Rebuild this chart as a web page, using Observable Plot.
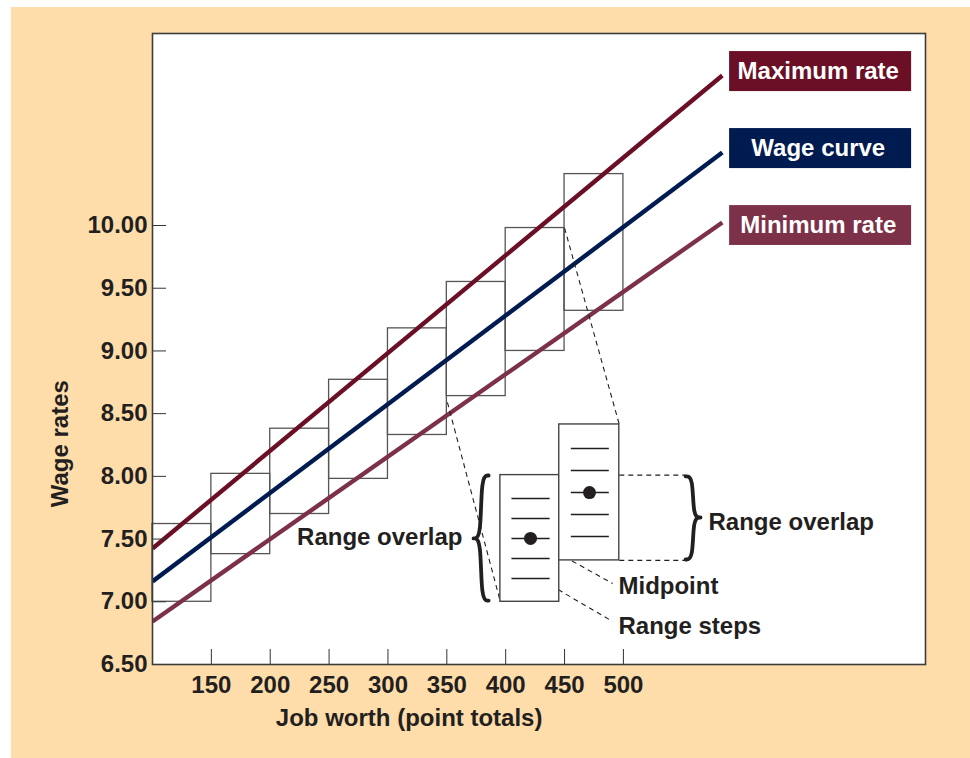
<!DOCTYPE html>
<html>
<head>
<meta charset="utf-8">
<script src="https://cdn.jsdelivr.net/npm/d3@7"></script>
<script src="https://cdn.jsdelivr.net/npm/@observablehq/plot@0.6"></script>
<style>
  html, body { margin: 0; padding: 0; background: #ffffff; }
  #chart { position: absolute; left: 11px; top: 7px; width: 959px; height: 751px; background: #feddaa; }
  #chart svg { display: block; }
</style>
</head>
<body>
<div id="chart"></div>
<script>
// ---- data ----
const xTicks = [150, 200, 250, 300, 350, 400, 450, 500];
const yTickLabels = [6.5, 7, 7.5, 8, 8.5, 9, 9.5, 10];
const yTickMarks = [7, 7.5, 8, 8.5, 9, 9.5, 10];

// pay grades (point ranges and wage ranges)
const gradeStart = [100, 150, 200, 250, 300, 350, 400, 450];
const gradeEnd   = [150, 200, 250, 300, 350, 400, 450, 500];
const gradeMax   = [7.62, 8.02, 8.38, 8.77, 9.18, 9.55, 9.98, 10.41];
const gradeMin   = [7.00, 7.38, 7.70, 7.98, 8.33, 8.64, 9.00, 9.32];

// rate lines
const lineNames  = ["Maximum rate", "Wage curve", "Minimum rate"];
const lineColors = ["#6a0f25", "#001b4f", "#7d3149"];
const lineX      = [100, 584];
const maxRate    = [7.425, 11.196];
const wageCurve  = [7.162, 10.582];
const minRate    = [6.843, 10.024];

// legend label boxes
const labelX1 = 590.2, labelX2 = 744.8;
const labelTop    = [11.387, 10.773, 10.159];
const labelBottom = [11.068, 10.454, 9.841];

// inset (enlarged two grades)
const insetStart = [395.5, 445.5];
const insetEnd   = [445.5, 496.5];
const insetMin   = [7.00, 7.33];
const insetMax   = [8.01, 8.414];
const stepsA = [7.823, 7.664, 7.505, 7.345, 7.186];
const stepsB = [8.222, 8.047, 7.871, 7.696, 7.521];
const stepXA = [404.9, 437.3];
const stepXB = [455.3, 487.6];
const midX = [421.1, 471.2];
const midY = [7.505, 7.871];

// dashed connector lines [x1, y1, x2, y2]
const dashX1 = [350.5, 450, 496.5, 496.5, 429.6, 431.3];
const dashY1 = [8.59, 9.98, 8.01, 7.33, 7.465, 7.17];
const dashX2 = [395.5, 496.5, 552.8, 552.8, 490.8, 490.8];
const dashY2 = [7.0, 8.414, 8.01, 7.33, 7.146, 6.843];

// braces: end x, tip x, top, bottom, tip y
const braceEnd = [385.5, 552.8];
const braceTip = [372.7, 565.5];
const braceTop = [8.007, 8.0];
const braceBot = [7.01, 7.337];
const braceMid = [7.505, 7.672];

// annotation texts
const leftNoteText = ["Range overlap"];
const leftNoteX = [363.3];
const leftNoteY = [7.513];
const rightNoteText = ["Range overlap", "Midpoint", "Range steps"];
const rightNoteX = [572.3, 495.8, 495.8];
const rightNoteY = [7.632, 7.122, 6.803];

// axis titles
const yTitle = "Wage rates", yTitlePos = 8.26;
const xTitle = "Job worth (point totals)", xTitlePos = 318;

// ---- build tables ----
const grades = gradeStart.map((s, i) => ({x1: s, x2: gradeEnd[i], y1: gradeMin[i], y2: gradeMax[i]}));
const rateLines = [];
[maxRate, wageCurve, minRate].forEach((vals, i) => {
  vals.forEach((v, j) => rateLines.push({name: lineNames[i], x: lineX[j], y: v}));
});
const labels = lineNames.map((n, i) => ({name: n, y1: labelBottom[i], y2: labelTop[i]}));
const inset = insetStart.map((s, i) => ({x1: s, x2: insetEnd[i], y1: insetMin[i], y2: insetMax[i]}));
const steps = [
  ...stepsA.map(y => ({x1: stepXA[0], x2: stepXA[1], y})),
  ...stepsB.map(y => ({x1: stepXB[0], x2: stepXB[1], y}))
];
const mids = midX.map((x, i) => ({x, y: midY[i]}));
const dashes = dashX1.map((x, i) => ({x1: x, y1: dashY1[i], x2: dashX2[i], y2: dashY2[i]}));
const braces = [];
braceEnd.forEach((xe, i) => {
  const xt = braceTip[i], xb = (xe + xt) / 2, t = braceTop[i], b = braceBot[i], m = braceMid[i];
  [[xe, t], [xb, t], [xb, m], [xt, m], [xt, m], [xt, m], [xb, m], [xb, b], [xe, b]]
    .forEach(([x, y]) => braces.push({id: i, x, y}));
});
const leftNotes = leftNoteText.map((t, i) => ({t, x: leftNoteX[i], y: leftNoteY[i]}));
const rightNotes = rightNoteText.map((t, i) => ({t, x: rightNoteX[i], y: rightNoteY[i]}));

const ink = "#231f20";
const font = "'Liberation Sans', Arial, sans-serif";
const fs = 24;

const chart = Plot.plot({
  width: 959,
  height: 751,
  marginLeft: 141,
  marginTop: 26,
  marginRight: 45,
  marginBottom: 94,
  style: {fontFamily: font, fontWeight: "bold", fontSize: fs + "px", color: ink, background: "transparent", overflow: "visible"},
  x: {domain: [100, 756.6]},
  y: {domain: [6.5, 11.531]},
  color: {domain: lineNames, range: lineColors},
  marks: [
    Plot.frame({fill: "white"}),
    // pay grade boxes
    Plot.rect(grades, {x1: "x1", x2: "x2", y1: "y1", y2: "y2", stroke: "#555", strokeWidth: 1.3, fill: "none"}),
    // rate lines
    Plot.line(rateLines, {x: "x", y: "y", z: "name", stroke: "name", strokeWidth: 4.4, strokeLinecap: "butt", clip: true}),
    // legend labels
    Plot.rect(labels, {x1: labelX1, x2: labelX2, y1: "y1", y2: "y2", fill: "name"}),
    Plot.text(labels, {x: (labelX1 + labelX2) / 2 - 2, y: d => (d.y1 + d.y2) / 2, text: "name", fill: "white", fontSize: fs, fontWeight: "bold", textAnchor: "middle"}),
    // dashed connectors
    Plot.link(dashes, {x1: "x1", y1: "y1", x2: "x2", y2: "y2", stroke: ink, strokeWidth: 1.1, strokeDasharray: "5,4"}),
    // inset boxes
    Plot.rect(inset, {x1: "x1", x2: "x2", y1: "y1", y2: "y2", fill: "white", stroke: "#444", strokeWidth: 1.4}),
    Plot.link(steps, {x1: "x1", x2: "x2", y1: "y", y2: "y", stroke: ink, strokeWidth: 1.5}),
    Plot.dot(mids, {x: "x", y: "y", r: 6.5, fill: ink, stroke: "none"}),
    // braces
    Plot.line(braces, {x: "x", y: "y", z: "id", curve: "basis", stroke: ink, strokeWidth: 3.8, strokeLinecap: "round"}),
    // annotation text
    Plot.text(leftNotes, {x: "x", y: "y", text: "t", textAnchor: "end", fill: ink, fontSize: fs, fontWeight: "bold"}),
    Plot.text(rightNotes, {x: "x", y: "y", text: "t", textAnchor: "start", fill: ink, fontSize: fs, fontWeight: "bold"}),
    // axes: inward tick marks
    Plot.axisY({ticks: yTickMarks, tickSize: 14, dx: 14, tickFormat: () => "", label: null, stroke: "#333"}),
    Plot.axisX({ticks: xTicks, tickSize: 15, dy: -15, tickFormat: () => "", label: null, stroke: "#333"}),
    // axes: labels
    Plot.axisY({ticks: yTickLabels, tickSize: 0, tickPadding: 5, tickFormat: d => d.toFixed(2), label: null, fill: ink, fontSize: fs, fontWeight: "bold"}),
    Plot.axisX({ticks: xTicks, tickSize: 0, tickPadding: 11, tickFormat: d => String(d), label: null, fill: ink, fontSize: fs, fontWeight: "bold"}),
    // frame outline
    Plot.frame({stroke: "#3c3c3c", strokeWidth: 1.6}),
    // axis titles
    Plot.text([yTitle], {y: [yTitlePos], frameAnchor: "left", dx: -92, rotate: -90, textAnchor: "middle", fill: ink, fontSize: fs, fontWeight: "bold"}),
    Plot.text([xTitle], {x: [xTitlePos], frameAnchor: "bottom", dy: 61, fill: ink, fontSize: fs, fontWeight: "bold"})
  ]
});
document.getElementById("chart").appendChild(chart);
</script>
</body>
</html>
